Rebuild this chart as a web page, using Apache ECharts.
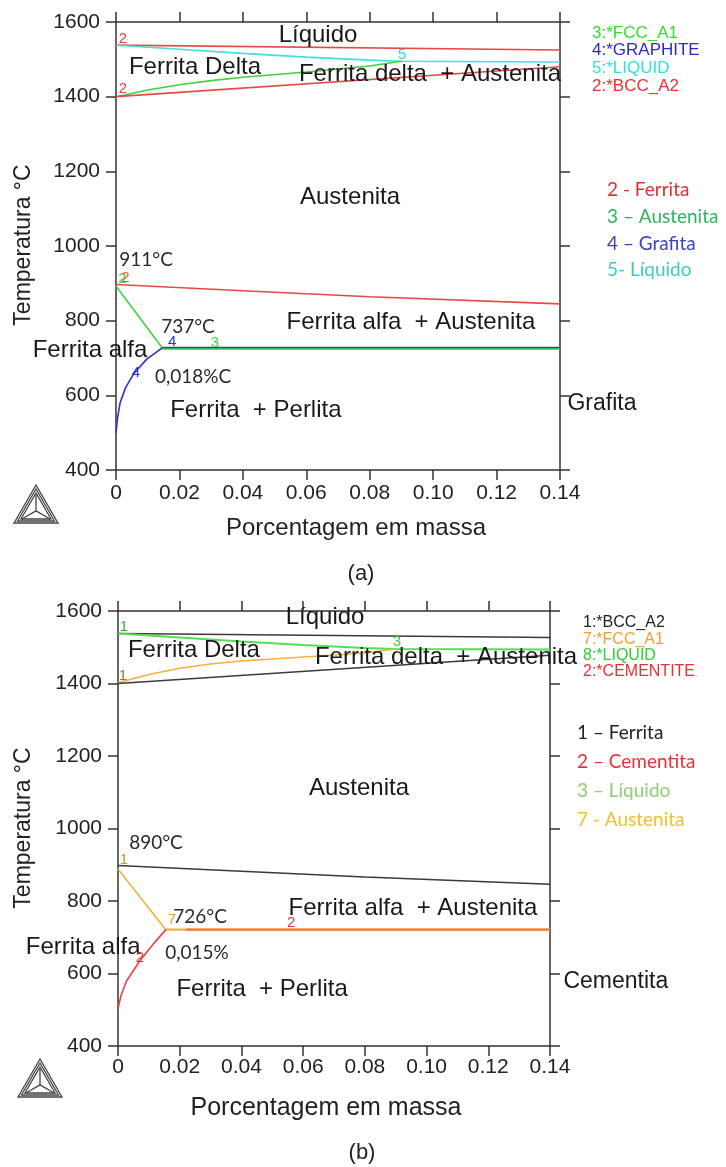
<!DOCTYPE html>
<html><head><meta charset="utf-8">
<script src="https://cdn.jsdelivr.net/npm/echarts@6/dist/echarts.min.js"></script>
<style>html,body{margin:0;padding:0;background:#fff}#c{width:726px;height:1167px}</style>
</head><body><div id="c"></div><script>
// ---------- tick labels ----------
const xTickLabels = ['0','0.02','0.04','0.06','0.08','0.10','0.12','0.14'];
const yTickLabels = ['400','600','800','1000','1200','1400','1600'];

// ---------- panel (a): phase boundaries [%C, °C] ----------
const a_bccUpper   = [[0,1538],[0.14,1525]];
const a_liquid     = [[0,1538],[0.02,1527],[0.04,1516],[0.06,1506],[0.08,1498],[0.09,1495],[0.14,1493]];
const a_fccDelta   = [[0,1400],[0.01,1418],[0.02,1432],[0.03,1443],[0.04,1452],[0.06,1466],[0.08,1482],[0.09,1495]];
const a_bccLower   = [[0,1400],[0.14,1480]];
const a_bccA3      = [[0,897],[0.04,880],[0.08,864],[0.14,845]];
const a_fccA3      = [[0,893],[0.0146,727]];
const a_fccEutect  = [[0.0146,725],[0.14,725]];
const a_graphSolv  = [[0,500],[0.0005,540],[0.0013,580],[0.003,620],[0.0055,657],[0.0097,697],[0.0146,727]];
const a_graphEut   = [[0.0146,728],[0.14,728]];

// ---------- panel (b) ----------
const b_bccUpper   = [[0,1538],[0.14,1527]];
const b_liquid     = [[0,1538],[0.02,1527],[0.04,1516],[0.06,1506],[0.08,1498],[0.09,1495],[0.14,1494]];
const b_fccDelta   = [[0,1402],[0.01,1425],[0.02,1442],[0.03,1454],[0.04,1462],[0.06,1473],[0.08,1484],[0.09,1495]];
const b_bccLower   = [[0,1400],[0.14,1478]];
const b_bccA3      = [[0,898],[0.04,882],[0.08,866],[0.14,846]];
const b_fccA3      = [[0,888],[0.0155,721]];
const b_fccEutect  = [[0.0155,721],[0.14,721]];
const b_cemSolv    = [[0,503],[0.001,540],[0.0028,580],[0.0071,635],[0.0114,681],[0.0155,721]];
const b_cemEut     = [[0.022,721],[0.14,721]];

// ---------- annotations [text, %C, °C] ----------
const a_regions = [
  ['Líquido',0.0637,1565],['Ferrita Delta',0.0249,1479],['Ferrita delta  + Austenita',0.099,1461],
  ['Austenita',0.0738,1131],['Ferrita alfa  + Austenita',0.093,796],['Ferrita alfa',-0.0082,721],
  ['Ferrita  + Perlita',0.0441,561]
];
const a_notes = [['911°C',0.0095,962],['737°C',0.0227,783],['0,018%C',0.0243,649]];
const a_side = [['Grafita',0.1422,577]];
const a_nums = [
  ['2',0.0022,1554,'#e84040'],['2',0.0022,1420,'#e84040'],['5',0.0902,1512,'#30d8d8'],
  ['2',0.0020,911,'#40d040'],['2',0.0030,914,'#e86030'],['4',0.0177,743,'#3030d0'],
  ['3',0.0312,740,'#40d040'],['4',0.0063,660,'#3030d0']
];
const b_regions = [
  ['Líquido',0.0671,1583],['Ferrita Delta',0.0246,1492],['Ferrita delta  + Austenita',0.1063,1473],
  ['Austenita',0.0781,1112],['Ferrita alfa  + Austenita',0.0956,781],['Ferrita alfa',-0.0113,673],
  ['Ferrita  + Perlita',0.0467,555]
];
const b_notes = [['890°C',0.0123,960],['726°C',0.0266,756],['0,015%',0.0256,657]];
const b_side = [['Cementita',0.1442,577]];
const b_nums = [
  ['1',0.0019,1556,'#30b030'],['1',0.0016,1421,'#a07020'],['3',0.0904,1514,'#40d040'],
  ['1',0.0019,913,'#d09020'],['7',0.0175,748,'#f0a030'],['2',0.0561,739,'#e83040'],['2',0.0071,643,'#e83040']
];

// ---------- legends ----------
const a_legend1 = [['3:*FCC_A1','#30dd30'],['4:*GRAPHITE','#2a2ad0'],['5:*LIQUID','#30e0e0'],['2:*BCC_A2','#e83030']];
const a_legend2 = [['2 - Ferrita','#e03030'],['3 – Austenita','#30b060'],['4 – Grafita','#4040c0'],['5- Líquido','#40c8c8']];
const b_legend1 = [['1:*BCC_A2','#222222'],['7:*FCC_A1','#f0a030'],['8:*LIQUID','#30d030'],['2:*CEMENTITE','#e8303a']];
const b_legend2 = [['1 – Ferrita','#222222'],['2 – Cementita','#e8303a'],['3 – Líquido','#90cc70'],['7 - Austenita','#f0c030']];

const AX = '#333';
const TF = 'Liberation Sans, Arial, sans-serif';
const CF = 'Lato, Open Sans, sans-serif';

function xAxes(g){
  const base = {gridIndex:g,type:'value',min:0,max:0.14,interval:0.02,splitLine:{show:false},
    axisLine:{show:true,onZero:false,lineStyle:{color:AX,width:1.5}},axisTick:{show:true,length:10,lineStyle:{color:AX,width:1.5}}};
  return [
    Object.assign({},base,{position:'bottom',axisLabel:{show:true,fontSize:21,fontFamily:TF,color:'#222',margin:g===0?13:11,
      formatter:v=>xTickLabels[Math.round(v/0.02)]}}),
    Object.assign({},base,{position:'top',axisLabel:{show:false}})
  ];
}
function yAxes(g){
  const base = {gridIndex:g,type:'value',min:400,max:1600,interval:200,splitLine:{show:false},
    axisLine:{show:true,onZero:false,lineStyle:{color:AX,width:1.5}},axisTick:{show:true,length:10,lineStyle:{color:AX,width:1.5}}};
  return [
    Object.assign({},base,{position:'left',axisLabel:{show:true,fontSize:21,fontFamily:TF,color:'#222',margin:16,
      formatter:v=>yTickLabels[Math.round((v-400)/200)]}}),
    Object.assign({},base,{position:'right',axisLabel:{show:false}})
  ];
}
function line(data,color,g,w){
  return {type:'line',data:data,xAxisIndex:g*2,yAxisIndex:g*2,showSymbol:false,symbol:'none',silent:true,
    clip:false,lineStyle:{color:color,width:w||1.6},z:3};
}
function labels(items,g,font,size,defColor,align){
  return {type:'scatter',xAxisIndex:g*2,yAxisIndex:g*2,symbolSize:1,itemStyle:{color:'rgba(255,255,255,0)'},silent:true,clip:false,z:5,
    data:items.map(it=>({value:[it[1],it[2]],name:it[0],label:{color:it[3]||defColor}})),
    label:{show:true,position:align==='left'?'right':'inside',distance:0,formatter:'{b}',fontFamily:font,fontSize:size,
      color:defColor,opacity:1,textBorderWidth:0,textShadowBlur:0}};
}
function legendTexts(list,x,y0,dy,font,size){
  return list.map((it,i)=>({type:'text',x:x,y:y0+i*dy,style:{text:it[0],fill:it[1],font:size+'px '+font,textAlign:'left',textVerticalAlign:'middle'}}));
}
function logo(x,y){ // Thermo-Calc style triangle
  const w=44,h=38;
  const tri=(i)=>{const d=i*4;return {type:'polygon',shape:{points:[[x+d*0.87,y+h-d*0.5],[x+w-d*0.87,y+h-d*0.5],[x+w/2,y+d]]},style:{fill:'none',stroke:'#444',lineWidth:1.3}};};
  const cx=x+w/2, cy=y+h*0.68;
  return [tri(0),tri(1),tri(2),
    {type:'line',shape:{x1:cx,y1:cy,x2:x+w/2,y2:y+10},style:{stroke:'#444',lineWidth:1.3}},
    {type:'line',shape:{x1:cx,y1:cy,x2:x+8,y2:y+h-4},style:{stroke:'#444',lineWidth:1.3}},
    {type:'line',shape:{x1:cx,y1:cy,x2:x+w-8,y2:y+h-4},style:{stroke:'#444',lineWidth:1.3}}];
}

const chart = echarts.init(document.getElementById('c'),null,{renderer:'canvas'});
const xa=[...xAxes(0),...xAxes(1)], ya=[...yAxes(0),...yAxes(1)];
xa[2].gridIndex=1; xa[3].gridIndex=1; ya[2].gridIndex=1; ya[3].gridIndex=1;

const RED='#e84848', CYAN='#40e0e0', GRN='#40d040', BLU='#3030d0', BLK='#3a3a3a', ORG='#f4b040', CRED='#ee4040';
chart.setOption({
  animation:false,
  backgroundColor:'#fff',
  grid:[{left:116,top:22,width:444,height:448},{left:118,top:611,width:432,height:435}],
  xAxis:xa, yAxis:ya,
  series:[
    line(a_bccUpper,RED,0), line(a_liquid,CYAN,0), line(a_fccDelta,GRN,0), line(a_bccLower,RED,0),
    line(a_bccA3,RED,0), line(a_fccA3,GRN,0), line(a_fccEutect,GRN,0,2), line(a_graphSolv,BLU,0), line(a_graphEut,'#2050a0',0,1.6),
    labels(a_regions,0,TF,24,'#1a1a1a'), labels(a_notes,0,CF,19,'#2a2a2a'), labels(a_side,0,TF,23,'#1a1a1a','left'),
    labels(a_nums,0,TF,15,'#e84040'),
    line(b_bccUpper,BLK,1), line(b_liquid,'#50e050',1,2), line(b_fccDelta,ORG,1), line(b_bccLower,BLK,1),
    line(b_bccA3,BLK,1), line(b_fccA3,ORG,1), line(b_fccEutect,ORG,1,2.2), line(b_cemSolv,CRED,1), line(b_cemEut,'#f07a48',1,2.2),
    labels(b_regions,1,TF,24,'#1a1a1a'), labels(b_notes,1,CF,19,'#2a2a2a'), labels(b_side,1,TF,23,'#1a1a1a','left'),
    labels(b_nums,1,TF,15,'#e83040')
  ],
  graphic:[
    {type:'text',x:24,y:245,rotation:Math.PI/2,style:{text:'Temperatura °C',font:'23px '+TF,fill:'#222',textAlign:'center',textVerticalAlign:'middle'}},
    {type:'text',x:24,y:828,rotation:Math.PI/2,style:{text:'Temperatura °C',font:'23px '+TF,fill:'#222',textAlign:'center',textVerticalAlign:'middle'}},
    {type:'text',x:356,y:528,style:{text:'Porcentagem em massa',font:'24px '+TF,fill:'#222',textAlign:'center',textVerticalAlign:'middle'}},
    {type:'text',x:326,y:1108,style:{text:'Porcentagem em massa',font:'25px '+TF,fill:'#222',textAlign:'center',textVerticalAlign:'middle'}},
    {type:'text',x:361,y:574,style:{text:'(a)',font:'22px '+TF,fill:'#222',textAlign:'center',textVerticalAlign:'middle'}},
    {type:'text',x:362,y:1153,style:{text:'(b)',font:'22px '+TF,fill:'#222',textAlign:'center',textVerticalAlign:'middle'}},
    ...legendTexts(a_legend1,592,33,17.8,TF,17),
    ...legendTexts(a_legend2,607,190,26.7,CF,19),
    ...legendTexts(b_legend1,583,623,16.3,TF,16),
    ...legendTexts(b_legend2,577,733,29,CF,19),
    ...logo(14,485), ...logo(18,1059)
  ]
});
</script></body></html>
